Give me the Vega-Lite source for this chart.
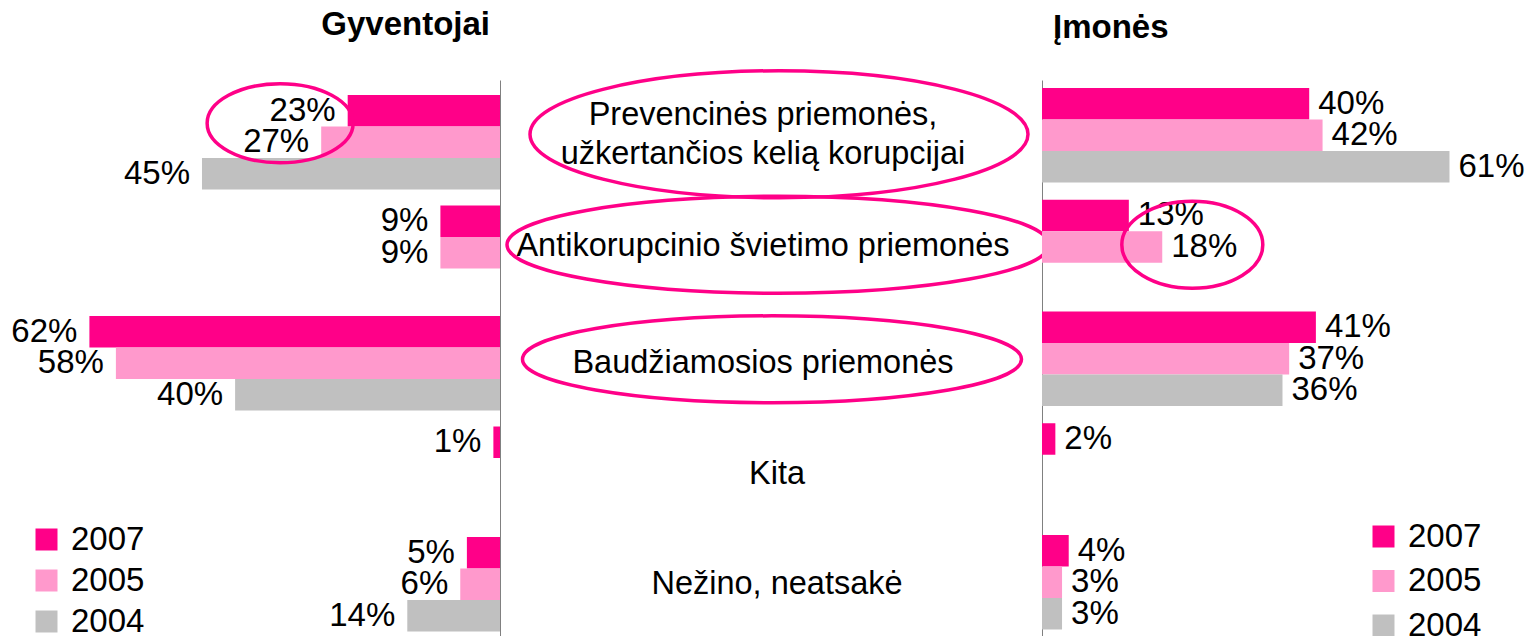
{
  "$schema": "https://vega.github.io/schema/vega-lite/v6.json",
  "background": "white",
  "padding": {"left": 0, "right": 0, "top": 8, "bottom": 0},
  "spacing": 0,
  "bounds": "flush",
  "config": {
    "font": "Liberation Sans",
    "view": {"stroke": null},
    "title": {"fontSize": 33, "fontWeight": "bold", "color": "black", "font": "Liberation Sans", "offset": 35},
    "legend": {
      "orient": "none", "title": null, "symbolType": "square", "symbolSize": 484,
      "symbolStrokeWidth": 0, "symbolOpacity": 1, "labelFontSize": 33, "labelFont": "Liberation Sans",
      "labelColor": "black", "labelOffset": 8, "padding": 0
    }
  },
  "datasets": {
    "bars": [
      {"panel": "Gyventojai", "category": "Prevencinės priemonės,\nužkertančios kelią korupcijai", "year": "2007", "value": 0.23},
      {"panel": "Gyventojai", "category": "Prevencinės priemonės,\nužkertančios kelią korupcijai", "year": "2005", "value": 0.27},
      {"panel": "Gyventojai", "category": "Prevencinės priemonės,\nužkertančios kelią korupcijai", "year": "2004", "value": 0.45},
      {"panel": "Gyventojai", "category": "Antikorupcinio švietimo priemonės", "year": "2007", "value": 0.09},
      {"panel": "Gyventojai", "category": "Antikorupcinio švietimo priemonės", "year": "2005", "value": 0.09},
      {"panel": "Gyventojai", "category": "Baudžiamosios priemonės", "year": "2007", "value": 0.62},
      {"panel": "Gyventojai", "category": "Baudžiamosios priemonės", "year": "2005", "value": 0.58},
      {"panel": "Gyventojai", "category": "Baudžiamosios priemonės", "year": "2004", "value": 0.40},
      {"panel": "Gyventojai", "category": "Kita", "year": "2007", "value": 0.01},
      {"panel": "Gyventojai", "category": "Nežino, neatsakė", "year": "2007", "value": 0.05},
      {"panel": "Gyventojai", "category": "Nežino, neatsakė", "year": "2005", "value": 0.06},
      {"panel": "Gyventojai", "category": "Nežino, neatsakė", "year": "2004", "value": 0.14},
      {"panel": "Įmonės", "category": "Prevencinės priemonės,\nužkertančios kelią korupcijai", "year": "2007", "value": 0.40},
      {"panel": "Įmonės", "category": "Prevencinės priemonės,\nužkertančios kelią korupcijai", "year": "2005", "value": 0.42},
      {"panel": "Įmonės", "category": "Prevencinės priemonės,\nužkertančios kelią korupcijai", "year": "2004", "value": 0.61},
      {"panel": "Įmonės", "category": "Antikorupcinio švietimo priemonės", "year": "2007", "value": 0.13},
      {"panel": "Įmonės", "category": "Antikorupcinio švietimo priemonės", "year": "2005", "value": 0.18},
      {"panel": "Įmonės", "category": "Baudžiamosios priemonės", "year": "2007", "value": 0.41},
      {"panel": "Įmonės", "category": "Baudžiamosios priemonės", "year": "2005", "value": 0.37},
      {"panel": "Įmonės", "category": "Baudžiamosios priemonės", "year": "2004", "value": 0.36},
      {"panel": "Įmonės", "category": "Kita", "year": "2007", "value": 0.02},
      {"panel": "Įmonės", "category": "Nežino, neatsakė", "year": "2007", "value": 0.04},
      {"panel": "Įmonės", "category": "Nežino, neatsakė", "year": "2005", "value": 0.03},
      {"panel": "Įmonės", "category": "Nežino, neatsakė", "year": "2004", "value": 0.03}
    ],
    "cats": [
      {"category": "Prevencinės priemonės,\nužkertančios kelią korupcijai", "key": "prev"},
      {"category": "Antikorupcinio švietimo priemonės", "key": "anti"},
      {"category": "Baudžiamosios priemonės", "key": "baud"},
      {"category": "Kita", "key": "kita"},
      {"category": "Nežino, neatsakė", "key": "nezino"}
    ]
  },
  "resolve": {"scale": {"x": "independent", "y": "independent", "color": "independent"}},
  "hconcat": [
    {
      "width": 500,
      "height": 557,
      "title": {"text": "Gyventojai", "anchor": "end", "dx": -10},
      "layer": [
        {
          "data": {"name": "bars"},
          "transform": [{"filter": {"field": "panel", "equal": "Gyventojai"}}],
          "mark": {"type": "bar"},
          "encoding": {
            "y": {"field": "category", "type": "nominal",
              "scale": {"type": "band", "domain": ["Prevencinės priemonės,\nužkertančios kelią korupcijai", "Antikorupcinio švietimo priemonės", "Baudžiamosios priemonės", "Kita", "Nežino, neatsakė"], "paddingInner": 0.1448, "paddingOuter": 0.0928, "align": 0.732},
              "axis": {"orient": "right", "labels": false, "ticks": false, "title": null, "grid": false, "domainColor": "#808080", "domainWidth": 1}},
            "yOffset": {"field": "year", "type": "nominal", "scale": {"domain": ["2007", "2005", "2004"], "paddingInner": 0, "paddingOuter": 0}},
            "x": {"field": "value", "type": "quantitative", "scale": {"domain": [0, 0.755], "nice": false, "zero": false, "reverse": true}, "axis": null},
            "color": {"field": "year", "type": "nominal",
              "scale": {"domain": ["2007", "2005", "2004"], "range": ["#FF0088", "#FF99CC", "#C0C0C0"]},
              "legend": {"orient": "none", "legendX": 30, "legendY": 443, "rowPadding": 7}}
          }
        },
        {
          "data": {"name": "bars"},
          "transform": [{"filter": {"field": "panel", "equal": "Gyventojai"}}],
          "mark": {"type": "text", "align": "right", "baseline": "middle", "dx": -12, "fontSize": 33, "color": "black"},
          "encoding": {
            "y": {"field": "category", "type": "nominal"},
            "yOffset": {"field": "year", "type": "nominal"},
            "x": {"field": "value", "type": "quantitative"},
            "text": {"field": "value", "type": "quantitative", "format": ".0%"}
          }
        },
        {
          "data": {"values": [{"category": "Prevencinės priemonės,\nužkertančios kelią korupcijai"}]},
          "mark": {"type": "point", "filled": false, "opacity": 1, "stroke": "#FF0088", "strokeWidth": 3.5, "yOffset": -19,
            "shape": "M-1,0C-1,-0.2988,-0.5523,-0.541,0,-0.541C0.5523,-0.541,1,-0.2988,1,0C1,0.2988,0.5523,0.541,0,0.541C-0.5523,0.541,-1,0.2988,-1,0Z",
            "size": 21316},
          "encoding": {
            "y": {"field": "category", "type": "nominal"},
            "x": {"datum": 0.332, "type": "quantitative"}
          }
        }
      ]
    },
    {
      "width": 542,
      "height": 557,
      "data": {"name": "cats"},
      "encoding": {
        "y": {"field": "category", "type": "nominal",
          "scale": {"type": "band", "domain": ["Prevencinės priemonės,\nužkertančios kelią korupcijai", "Antikorupcinio švietimo priemonės", "Baudžiamosios priemonės", "Kita", "Nežino, neatsakė"], "paddingInner": 0.1448, "paddingOuter": 0.0928, "align": 0.732},
          "axis": null}
      },
      "layer": [
        {
          "transform": [{"filter": {"field": "key", "equal": "prev"}}],
          "mark": {"type": "text", "fontSize": 32.5, "color": "black", "baseline": "middle", "lineBreak": "\n", "lineHeight": 39, "dx": -8, "dy": -27},
          "encoding": {"text": {"field": "category"}}
        },
        {
          "transform": [{"filter": {"field": "key", "equal": "anti"}}],
          "mark": {"type": "text", "fontSize": 32.5, "color": "black", "baseline": "middle", "dx": -8, "dy": -7},
          "encoding": {"text": {"field": "category"}}
        },
        {
          "transform": [{"filter": {"field": "key", "equal": "baud"}}],
          "mark": {"type": "text", "fontSize": 32.5, "color": "black", "baseline": "middle", "dx": -8},
          "encoding": {"text": {"field": "category"}}
        },
        {
          "transform": [{"filter": {"field": "key", "oneOf": ["kita", "nezino"]}}],
          "mark": {"type": "text", "fontSize": 32.5, "color": "black", "baseline": "middle", "dx": 6},
          "encoding": {"text": {"field": "category"}}
        },
        {
          "transform": [{"filter": {"field": "key", "equal": "prev"}}],
          "mark": {"type": "point", "filled": false, "opacity": 1, "stroke": "#FF0088", "strokeWidth": 3.5, "xOffset": 8, "yOffset": -8,
            "shape": "M-1,0C-1,-0.1408,-0.5523,-0.255,0,-0.255C0.5523,-0.255,1,-0.1408,1,0C1,0.1408,0.5523,0.255,0,0.255C-0.5523,0.255,-1,0.1408,-1,0Z",
            "size": 248004}
        },
        {
          "transform": [{"filter": {"field": "key", "equal": "anti"}}],
          "mark": {"type": "point", "filled": false, "opacity": 1, "stroke": "#FF0088", "strokeWidth": 3.5, "xOffset": 7, "yOffset": -8,
            "shape": "M-1,0C-1,-0.0989,-0.5523,-0.179,0,-0.179C0.5523,-0.179,1,-0.0989,1,0C1,0.0989,0.5523,0.179,0,0.179C-0.5523,0.179,-1,0.0989,-1,0Z",
            "size": 293764}
        },
        {
          "transform": [{"filter": {"field": "key", "equal": "baud"}}],
          "mark": {"type": "point", "filled": false, "opacity": 1, "stroke": "#FF0088", "strokeWidth": 3.5, "xOffset": 1, "yOffset": -4,
            "shape": "M-1,0C-1,-0.0963,-0.5523,-0.174,0,-0.174C0.5523,-0.174,1,-0.0963,1,0C1,0.0963,0.5523,0.174,0,0.174C-0.5523,0.174,-1,0.0963,-1,0Z",
            "size": 249001}
        }
      ]
    },
    {
      "width": 495,
      "height": 557,
      "title": {"text": "Įmonės", "anchor": "start", "dx": 11},
      "layer": [
        {
          "data": {"name": "bars"},
          "transform": [{"filter": {"field": "panel", "equal": "Įmonės"}}],
          "mark": {"type": "bar"},
          "encoding": {
            "y": {"field": "category", "type": "nominal",
              "scale": {"type": "band", "domain": ["Prevencinės priemonės,\nužkertančios kelią korupcijai", "Antikorupcinio švietimo priemonės", "Baudžiamosios priemonės", "Kita", "Nežino, neatsakė"], "paddingInner": 0.1409, "paddingOuter": 0.0626, "align": 0.571},
              "axis": {"orient": "left", "labels": false, "ticks": false, "title": null, "grid": false, "domainColor": "#808080", "domainWidth": 1}},
            "yOffset": {"field": "year", "type": "nominal", "scale": {"domain": ["2007", "2005", "2004"], "paddingInner": 0, "paddingOuter": 0}},
            "x": {"field": "value", "type": "quantitative", "scale": {"domain": [0, 0.741], "nice": false}, "axis": null},
            "color": {"field": "year", "type": "nominal",
              "scale": {"domain": ["2007", "2005", "2004"], "range": ["#FF0088", "#FF99CC", "#C0C0C0"]},
              "legend": {"orient": "none", "legendX": 325, "legendY": 440, "rowPadding": 10.5}}
          }
        },
        {
          "data": {"name": "bars"},
          "transform": [{"filter": {"field": "panel", "equal": "Įmonės"}}],
          "mark": {"type": "text", "align": "left", "baseline": "middle", "dx": 9, "fontSize": 33, "color": "black"},
          "encoding": {
            "y": {"field": "category", "type": "nominal"},
            "yOffset": {"field": "year", "type": "nominal"},
            "x": {"field": "value", "type": "quantitative"},
            "text": {"field": "value", "type": "quantitative", "format": ".0%"}
          }
        },
        {
          "data": {"values": [{"category": "Antikorupcinio švietimo priemonės"}]},
          "mark": {"type": "point", "filled": false, "opacity": 1, "stroke": "#FF0088", "strokeWidth": 3.5, "yOffset": -3,
            "shape": "M-1,0C-1,-0.3408,-0.5523,-0.617,0,-0.617C0.5523,-0.617,1,-0.3408,1,0C1,0.3408,0.5523,0.617,0,0.617C-0.5523,0.617,-1,0.3408,-1,0Z",
            "size": 19881},
          "encoding": {
            "y": {"field": "category", "type": "nominal"},
            "x": {"datum": 0.225, "type": "quantitative"}
          }
        }
      ]
    }
  ]
}
